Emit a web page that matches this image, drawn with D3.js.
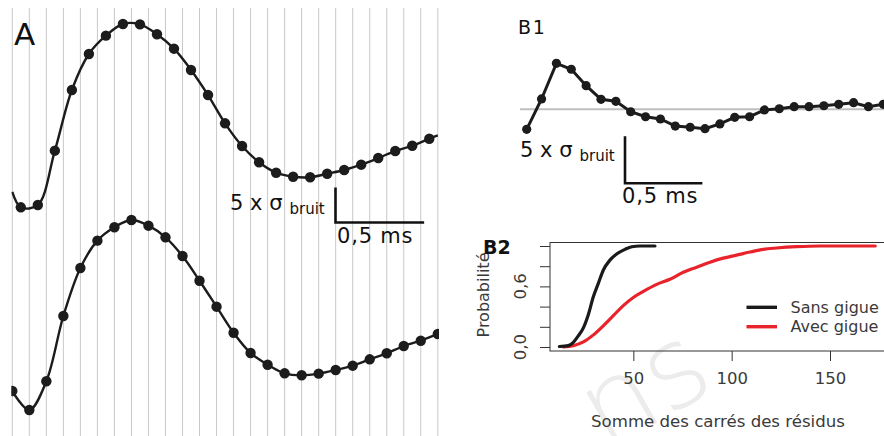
<!DOCTYPE html>
<html><head><meta charset="utf-8">
<script src="https://cdn.jsdelivr.net/npm/d3@7"></script>
<style>html,body{margin:0;padding:0;background:#fff;} svg{display:block;font-family:"DejaVu Sans",sans-serif;}</style>
</head><body><svg id="c" width="884" height="436"></svg>
<script>
// ---------------- DATA ----------------
// Panel A: amplitudes in units of sigma_bruit
const traceTopValues = [-4.33,-4.0,3.76,12.43,17.57,20.19,21.86,21.81,20.39,18.33,15.29,11.71,7.67,4.43,2.1,0.61,0.04,-0.04,0.47,1.0,1.76,2.71,3.71,4.47,5.47];
const traceTopEdges = [-2.14, 5.93];
const traceBottomValues = [-2.29,-5.0,-0.9,8.43,15.29,19.19,21.1,22.14,21.33,19.67,17.0,13.47,9.76,6.04,3.14,1.47,0.24,-0.04,0.19,0.71,1.33,2.24,3.1,4.14,4.9,5.86];
// Panel B1: residuals in units of sigma_bruit
const residualValues = [-2.13,1.10,4.89,4.26,2.51,1.06,0.85,-0.26,-0.79,-1.03,-1.78,-1.91,-2.06,-1.56,-0.85,-0.79,-0.07,0.06,0.28,0.28,0.38,0.53,0.70,0.28,0.53];
// Panel B2: empirical CDFs of the residual sum of squares
const sansGigueSSR  = [12.4,16.9,19.5,22.0,24.6,27.1,29.7,32.2,34.7,38.1,41.5,45.8,49.2,53.4,61];
const sansGigueProb = [0.005,0.013,0.046,0.11,0.19,0.32,0.50,0.63,0.76,0.86,0.92,0.967,0.993,1,1];
const avecGigueSSR  = [14.4,19.5,24.6,29.7,34.7,39.8,44.9,50,55.1,61.9,68.6,75.4,82.2,89.0,95.7,102.5,109.3,116.1,122.9,133,145,173];
const avecGigueProb = [0,0.013,0.05,0.12,0.21,0.31,0.41,0.49,0.55,0.62,0.67,0.74,0.79,0.84,0.88,0.91,0.94,0.967,0.98,0.993,1,1];
const xTickValues = [50,100,150];
const xTickLabels = ["50","100","150"];
const yTickValues = [0,0.2,0.4,0.6,0.8,1.0];
const yTickLabels = ["0,0","","","0,6","",""];
const legendLabels = ["Sans gigue","Avec gigue"];
const seriesColors = ["#1a1a1a","#e8232b"];
const samplePeriodMs = 0.096;
const scaleBarMs = 0.5;
const scaleBarSigma = 5;
const nGrid = 26;

// ---------------- DRAW ----------------
const svg = d3.select("#c");
const ink = "#1c1c1c";

// watermark
svg.append("text").attr("transform","translate(606,452) rotate(-30)")
  .attr("font-size",112).attr("font-weight",200)
  .attr("fill","#ececec").text("ns");

// ===== Panel A =====
const xA = d3.scaleLinear().domain([0, nGrid-1]).range([12.3, 437.8]);
const yTop = d3.scaleLinear().domain([0, 5]).range([177, 142]);
const yBot = d3.scaleLinear().domain([0, 5]).range([375, 340]);

svg.append("clipPath").attr("id","clipA").append("rect")
  .attr("x",11.3).attr("y",0).attr("width",427.7).attr("height",436);

const gA = svg.append("g");
gA.selectAll("line.grid").data(d3.range(nGrid)).join("line")
  .attr("x1", d=>xA(d)).attr("x2", d=>xA(d)).attr("y1",8).attr("y2",436)
  .attr("stroke","#c9c9c9").attr("stroke-width",1);

const gAc = gA.append("g").attr("clip-path","url(#clipA)");
const lineSmooth = d3.line().curve(d3.curveCatmullRom.alpha(0.5));

const topDots = traceTopValues.map((v,i)=>[xA(i+0.5), yTop(v)]);
const topLine = [[xA(0), yTop(traceTopEdges[0])], ...topDots, [xA(nGrid-1), yTop(traceTopEdges[1])]];
const botDots = traceBottomValues.map((v,i)=>[xA(i), yBot(v)]);

[topLine, botDots].forEach(pts=>{
  gAc.append("path").attr("d", lineSmooth(pts)).attr("fill","none")
    .attr("stroke",ink).attr("stroke-width",2.4);
});
[topDots, botDots].forEach(pts=>{
  gAc.selectAll(null).data(pts).join("circle")
    .attr("cx",d=>d[0]).attr("cy",d=>d[1]).attr("r",5.2).attr("fill",ink);
});

svg.append("text").attr("x",14).attr("y",45).attr("font-size",31).attr("fill","#111").text("A");

// scale bars
function scaleBar(x0, y0, pxPerSigma, pxPerSample, lblX, lblY, msX, msY){
  const h = scaleBarSigma*pxPerSigma;
  const w = (scaleBarMs/samplePeriodMs)*pxPerSample;
  svg.append("path").attr("d",`M${x0},${y0-h}V${y0}H${x0+w}`)
    .attr("fill","none").attr("stroke","#111").attr("stroke-width",2.6);
  const t = svg.append("text").attr("x",lblX).attr("y",lblY).attr("font-size",21).attr("fill","#111");
  t.append("tspan").text("5 x σ");
  t.append("tspan").attr("dx",7).attr("dy",4).attr("font-size",15).text("bruit");
  svg.append("text").attr("x",msX).attr("y",msY).attr("font-size",21).attr("letter-spacing",0.8)
    .attr("fill","#111").text("0,5 ms");
}
scaleBar(335.5, 222.5, yTop(0)-yTop(1), xA(1)-xA(0), 230, 209.5, 337, 243);

// ===== Panel B1 =====
const xB = d3.scaleLinear().domain([0, residualValues.length-1]).range([526.7, 883.3]);
const yB = d3.scaleLinear().domain([0, 5]).range([109.3, 62.3]);
svg.append("line").attr("x1",520).attr("x2",884).attr("y1",yB(0)).attr("y2",yB(0))
  .attr("stroke","#bfbfbf").attr("stroke-width",2);
const bPts = residualValues.map((v,i)=>[xB(i), yB(v)]);
svg.append("path").attr("d", d3.line()(bPts)).attr("fill","none").attr("stroke",ink).attr("stroke-width",3);
svg.selectAll("circle.b1").data(bPts).join("circle").attr("class","b1")
  .attr("cx",d=>d[0]).attr("cy",d=>d[1]).attr("r",4.6).attr("fill",ink);
svg.append("text").attr("x",518).attr("y",33.5).attr("font-size",19).attr("letter-spacing",1.8).attr("fill","#111").text("B1");
scaleBar(625, 183.3, yB(0)-yB(1), xB(1)-xB(0), 520, 157.3, 622, 202.5);

// ===== Panel B2 =====
const xS = d3.scaleLinear().domain([0,150]).range([535,830]);
const yP = d3.scaleLinear().domain([0,1]).range([347,246]);
const axisCol = "#333", txtCol = "#3a3a3a";
svg.append("rect").attr("x",550).attr("y",242.5).attr("width",338).attr("height",108.5)
  .attr("fill","none").attr("stroke",axisCol).attr("stroke-width",1);

const gx = svg.append("g").attr("transform","translate(0,351)");
gx.call(d3.axisBottom(xS).tickValues(xTickValues).tickFormat((d,i)=>xTickLabels[i]).tickSize(10).tickPadding(11));
gx.select(".domain").remove();
gx.selectAll("line").attr("stroke",axisCol);
gx.selectAll("text").attr("font-size",16.5).attr("font-family","DejaVu Sans").attr("fill",txtCol);

const gy = svg.append("g").attr("transform","translate(550,0)");
gy.call(d3.axisLeft(yP).tickValues(yTickValues).tickFormat(()=> "").tickSize(10));
gy.select(".domain").remove();
gy.selectAll("line").attr("stroke",axisCol);
yTickValues.forEach((v,i)=>{
  if(!yTickLabels[i]) return;
  svg.append("text").attr("transform",`translate(526,${yP(v)}) rotate(-90)`)
    .attr("text-anchor","middle").attr("font-size",16.5).attr("fill",txtCol).text(yTickLabels[i]);
});

const cdfLine = d3.line().x(d=>xS(d[0])).y(d=>yP(d[1])).curve(d3.curveMonotoneX);
const series = [
  d3.zip(sansGigueSSR, sansGigueProb),
  d3.zip(avecGigueSSR, avecGigueProb)
];
[1,0].forEach(k=>{
  svg.append("path").attr("d",cdfLine(series[k])).attr("fill","none")
    .attr("stroke",seriesColors[k]).attr("stroke-width",3.2).attr("stroke-linecap","round");
});

legendLabels.forEach((lab,i)=>{
  const y = 307.3 + i*19.4;
  svg.append("line").attr("x1",746.5).attr("x2",777).attr("y1",y).attr("y2",y)
    .attr("stroke",seriesColors[i]).attr("stroke-width",3.4);
  svg.append("text").attr("x",790.5).attr("y",y+5.3).attr("font-size",16).attr("fill",txtCol).text(lab);
});

svg.append("text").attr("transform","translate(489,295) rotate(-90)").attr("text-anchor","middle")
  .attr("font-size",16).attr("fill",txtCol).text("Probabilité");
svg.append("text").attr("x",718).attr("y",426.5).attr("text-anchor","middle")
  .attr("font-size",16.6).attr("fill",txtCol).text("Somme des carrés des résidus");
svg.append("text").attr("x",483).attr("y",253.5).attr("font-size",19).attr("font-weight","bold")
  .attr("fill","#111").text("B2");
</script></body></html>
